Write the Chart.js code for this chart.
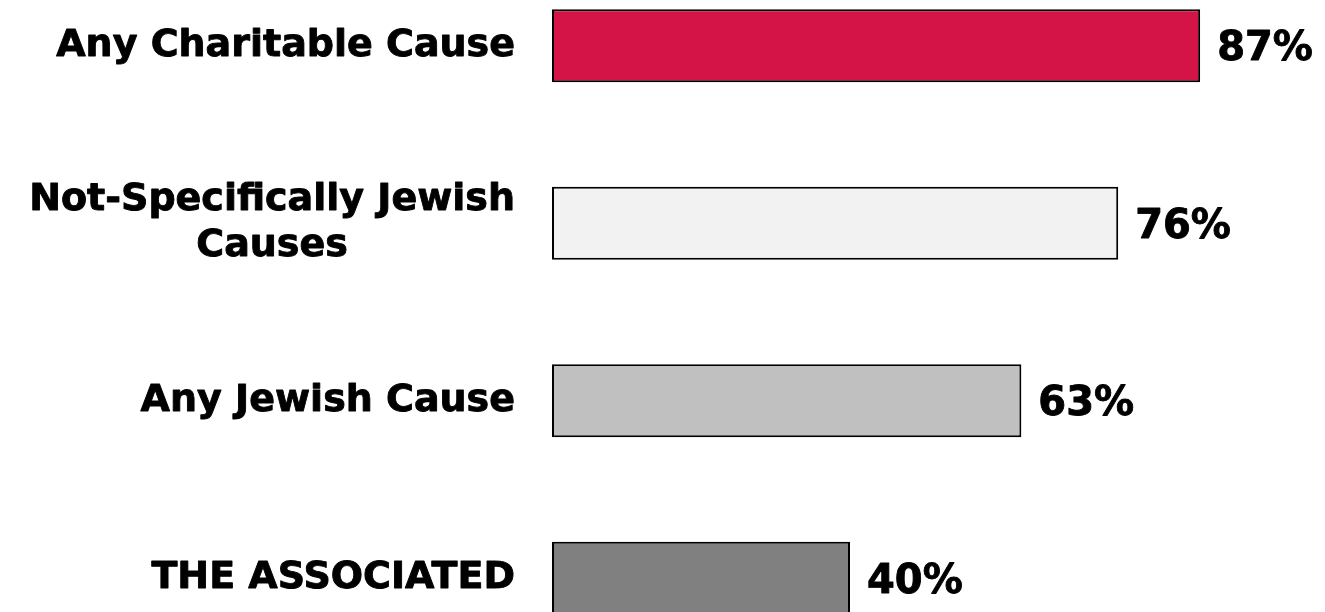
<!DOCTYPE html>
<html lang="en">
<head>
    <meta charset="UTF-8">
    <title>Charitable giving</title>
    <script src="https://cdn.jsdelivr.net/npm/chart.js"></script>
    <style>
        html, body { margin: 0; padding: 0; background: #fff; overflow: hidden; }
        #wrap { position: absolute; left: 0; top: -43px; width: 1325px; height: 710px; }
    </style>
</head>
<body>
    <div id="wrap">
        <canvas id="barChart" width="1325" height="710"></canvas>
    </div>

    <script>
        // donnees
        var categories = [
            ['Any Charitable Cause'],
            ['Not-Specifically Jewish', 'Causes'],
            ['Any Jewish Cause'],
            ['THE ASSOCIATED']
        ];
        var values = [87, 76, 63, 40];
        var barColors = ['#D41446', '#F2F2F2', '#C0C0C0', '#808080'];

        var FONT = 'bold 38px Verdana, "DejaVu Sans", sans-serif';
        var VALUE_FONT = 'bold 40px Verdana, "DejaVu Sans", sans-serif';

        // etiquettes de categories : bloc aligne a droite, lignes centrees
        var labelPlugin = {
            id: 'labels',
            afterDatasetsDraw: function (chart) {
                var ctx = chart.ctx;
                var yScale = chart.scales.y;
                ctx.save();
                ctx.font = FONT;
                ctx.fillStyle = '#000';
                ctx.strokeStyle = '#000';
                ctx.lineWidth = 0.9;
                ctx.lineJoin = 'round';
                ctx.textBaseline = 'middle';

                var lineH = 46;
                var right = chart.chartArea.left - 37;
                categories.forEach(function (lines, i) {
                    var yc = yScale.getPixelForValue(i);
                    var maxW = 0;
                    lines.forEach(function (l) { maxW = Math.max(maxW, ctx.measureText(l).width); });
                    var cx = right - maxW / 2;
                    ctx.textAlign = 'center';
                    lines.forEach(function (l, k) {
                        var y = yc + (k - (lines.length - 1) / 2) * lineH;
                        ctx.fillText(l, cx, y);
                        ctx.strokeText(l, cx, y);
                    });
                });

                // valeurs au bout des barres
                var meta = chart.getDatasetMeta(0);
                ctx.font = VALUE_FONT;
                ctx.textAlign = 'left';
                meta.data.forEach(function (bar, i) {
                    var t = values[i] + '%';
                    ctx.fillText(t, bar.x + 17, bar.y + 4);
                    ctx.strokeText(t, bar.x + 17, bar.y + 4);
                });
                ctx.restore();
            }
        };

        var ctx = document.getElementById('barChart').getContext('2d');
        var myChart = new Chart(ctx, {
            type: 'bar',
            data: {
                labels: categories,
                datasets: [{
                    data: values,
                    backgroundColor: barColors,
                    borderColor: '#000',
                    borderWidth: 2,
                    borderSkipped: false,
                    categoryPercentage: 1,
                    barPercentage: 0.41
                }]
            },
            options: {
                indexAxis: 'y',
                responsive: false,
                animation: false,
                devicePixelRatio: 1,
                layout: { padding: { left: 552, right: 28, top: 0, bottom: 0 } },
                plugins: {
                    legend: { display: false },
                    tooltip: { enabled: false }
                },
                scales: {
                    x: { display: false, min: 0, max: 100 },
                    y: { display: false }
                }
            },
            plugins: [labelPlugin]
        });
    </script>
</body>
</html>
